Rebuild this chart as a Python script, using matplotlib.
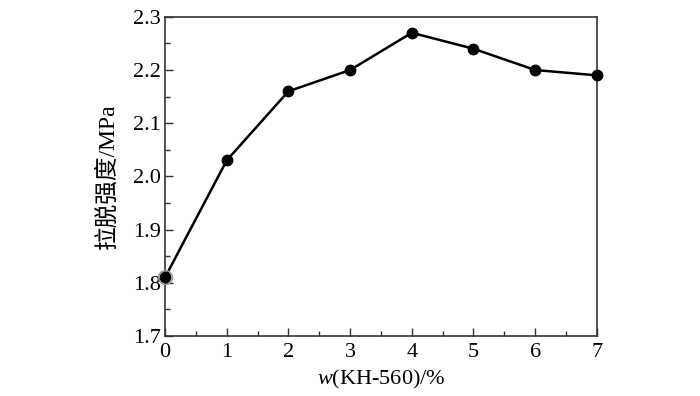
import matplotlib.pyplot as plt
from matplotlib.ticker import MultipleLocator

x_vals = [0, 1, 2, 3, 4, 5, 6, 7]
strength = [1.81, 2.03, 2.16, 2.20, 2.27, 2.24, 2.20, 2.19]

plt.rcParams["font.family"] = ["Liberation Serif", "Noto Sans CJK SC"]
plt.rcParams["mathtext.fontset"] = "custom"
plt.rcParams["mathtext.it"] = "Liberation Serif:italic"
plt.rcParams["mathtext.rm"] = "Liberation Serif"

fig = plt.figure(figsize=(7, 3.96), dpi=100)
ax = fig.add_axes([0.2357, 0.1515, 0.617, 0.806])

ax.plot(x_vals, strength, color="black", lw=1.8, marker="o", ms=7.5, clip_on=False, zorder=3)
ax.plot(x_vals[:1], strength[:1], marker="o", ms=10, mfc="none", mec="#999999", mew=1, clip_on=False, zorder=4)

ax.set_xlim(0, 7)
ax.set_ylim(1.7, 2.3)
ax.xaxis.set_major_locator(MultipleLocator(1))
ax.xaxis.set_minor_locator(MultipleLocator(0.5))
ax.yaxis.set_major_locator(MultipleLocator(0.1))
ax.yaxis.set_minor_locator(MultipleLocator(0.05))
ax.yaxis.set_major_formatter(plt.FormatStrFormatter("%.1f"))

ax.tick_params(which="both", direction="in", top=False, right=False, labelsize=16, width=1, color="#333333")
ax.tick_params(which="major", length=6)
ax.tick_params(axis="y", which="major", pad=3)
ax.tick_params(axis="x", which="major", pad=5)
ax.tick_params(which="minor", length=3.5)
for s in ax.spines.values():
    s.set_linewidth(1.2)
    s.set_color("#333333")

ax.set_xlabel(r"$w$(KH-560)/%", fontsize=16, labelpad=4)
ax.set_ylabel("拉脱强度/MPa", fontsize=17, labelpad=10)

fig.savefig("out.png", dpi=100)
